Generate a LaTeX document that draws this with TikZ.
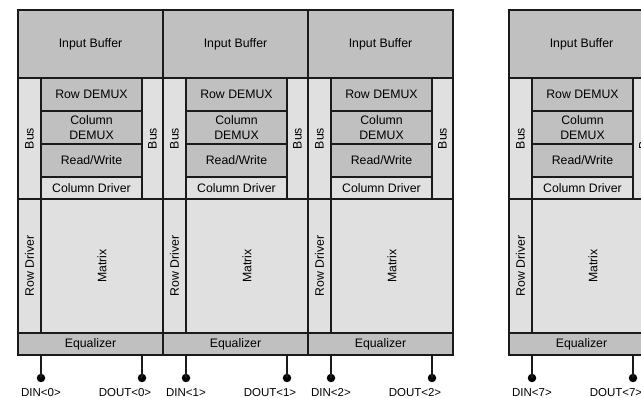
\documentclass[tikz,border=0pt]{standalone}
\usepackage{fontspec}
\setmainfont{Liberation Sans}
\definecolor{blkdark}{HTML}{C0C0C0}
\definecolor{blklight}{HTML}{E0E0E0}
\definecolor{edge}{HTML}{1A1A1A}
\begin{document}
\begin{tikzpicture}[x=1pt,y=-1pt,
  every node/.style={font=\fontsize{12.3}{15}\selectfont, text=black, inner sep=0pt, outer sep=0pt},
  cell/.style={draw=edge, line width=1.1pt},
  darkcell/.style={cell, fill=blkdark},
  lightcell/.style={cell, fill=blklight},
  pinline/.style={draw=edge, line width=1.1pt},
  pindot/.style={circle, fill=black, minimum size=8.5pt},
  pinlabel/.style={font=\fontsize{11.5}{13}\selectfont}]
\useasboundingbox (0,0) rectangle (641,398);
\clip (0,0) rectangle (641,398);
\foreach \i/\x in {0/18,1/163,2/308,7/509}{
  \begin{scope}[shift={(\x,0)}]
    % input buffer across the top of the bank
    \node[darkcell, minimum width=145pt, minimum height=68pt] (ib\i) at (72.5,44) {Input Buffer};
    % bus strips on both sides
    \node[lightcell, rotate=90, minimum width=121pt, minimum height=23pt] (busl\i) at (11.5,138.5) {Bus};
    \node[lightcell, rotate=90, minimum width=121pt, minimum height=21pt] (busr\i) at (134.5,138.5) {Bus};
    % column path stack
    \node[darkcell, minimum width=101pt, minimum height=33pt] (rdm\i) at (73.5,94.5) {Row DEMUX};
    \node[darkcell, minimum width=101pt, minimum height=33pt, align=center] (cdm\i) at (73.5,127.5) {Column\\DEMUX};
    \node[darkcell, minimum width=101pt, minimum height=33pt] (rw\i) at (73.5,160.5) {Read/Write};
    \node[lightcell, minimum width=101pt, minimum height=22pt] (cdr\i) at (73.5,188) {Column Driver};
    % row driver and cell matrix
    \node[lightcell, rotate=90, minimum width=134pt, minimum height=23pt] (rdr\i) at (11.5,266) {Row Driver};
    \node[lightcell, rotate=90, minimum width=134pt, minimum height=122pt] (mat\i) at (84,266) {Matrix};
    % equalizer along the bottom
    \node[darkcell, minimum width=145pt, minimum height=22pt] (eq\i) at (72.5,344) {Equalizer};
    % data pins
    \node[pindot] (din\i) at (23,378) {};
    \node[pindot] (dout\i) at (124,378) {};
    \draw[pinline] (eq\i.south -| din\i) -- (din\i.center);
    \draw[pinline] (eq\i.south -| dout\i) -- (dout\i.center);
    \node[pinlabel] (dinl\i) at (23,392.5) {DIN<\i>};
    \node[pinlabel] (doutl\i) at (107,392.5) {DOUT<\i>};
  \end{scope}
}
\end{tikzpicture}
\end{document}
